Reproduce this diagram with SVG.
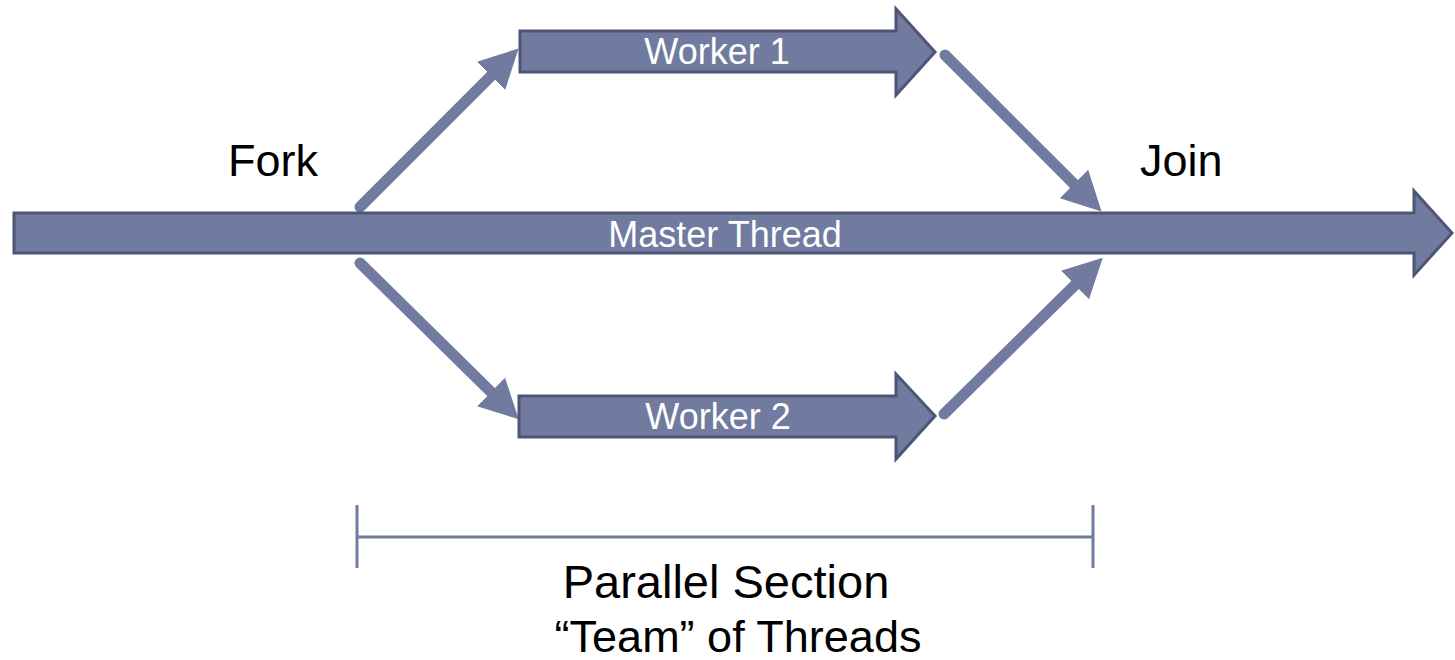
<svg xmlns="http://www.w3.org/2000/svg" width="1455" height="660" viewBox="0 0 1455 660">
  <style>
    .thread { fill: #717BA0; stroke: #4F5577; stroke-width: 3; stroke-linejoin: miter; }
    .flow { fill: none; stroke: #717BA0; stroke-width: 11; stroke-linecap: round; }
    .bracket { fill: none; stroke: #717BA0; stroke-width: 3; }
    .label { font-family: "Liberation Sans", Arial, sans-serif; fill: #000000; }
    .inner { font-family: "Liberation Sans", Arial, sans-serif; fill: #FFFFFF; font-size: 36px; text-anchor: middle; }
  </style>
  <defs>
    <marker id="head" markerUnits="userSpaceOnUse" markerWidth="40" markerHeight="42" viewBox="0 -21 40 42" refX="0" refY="0" orient="auto">
      <path d="M0,-20 L39,0 L0,20 Z" fill="#717BA0"/>
    </marker>
  </defs>
  <rect width="1455" height="660" fill="#FFFFFF"/>

  <!-- fork / join connectors -->
  <g id="connectors">
    <line class="flow" x1="360" y1="207" x2="491" y2="76" marker-end="url(#head)"/>
    <line class="flow" x1="360" y1="263" x2="491" y2="392" marker-end="url(#head)"/>
    <line class="flow" x1="945" y1="55" x2="1074" y2="184" marker-end="url(#head)"/>
    <line class="flow" x1="944" y1="414" x2="1075" y2="285" marker-end="url(#head)"/>
  </g>

  <g id="master">
    <path class="thread" d="M14,213 H1414 V191 L1452,233 L1414,275 V253 H14 Z"/>
    <text class="inner" x="725" y="247">Master Thread</text>
  </g>

  <g id="worker1">
    <path class="thread" d="M520,31 H896 V9 L935,52 L896,95 V72 H520 Z"/>
    <text class="inner" x="717" y="64">Worker 1</text>
  </g>

  <g id="worker2">
    <path class="thread" d="M519,396 H896 V374 L935,416 L896,459 V437 H519 Z"/>
    <text class="inner" x="718" y="429">Worker 2</text>
  </g>

  <g id="fork">
    <text class="label" x="228" y="176" font-size="45">Fork</text>
  </g>

  <g id="join">
    <text class="label" x="1140" y="176" font-size="45">Join</text>
  </g>

  <g id="parallel-section">
    <path class="bracket" d="M357,505 V568 M357,537 H1093 M1093,505 V568"/>
    <text class="label" x="726" y="598" font-size="47" text-anchor="middle">Parallel Section</text>
    <text class="label" x="738" y="652" font-size="45" text-anchor="middle">“Team” of Threads</text>
  </g>
</svg>
